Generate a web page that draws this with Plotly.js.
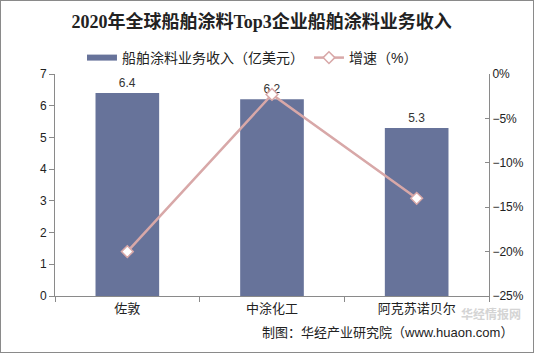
<!DOCTYPE html>
<html><head><meta charset="utf-8">
<script src="https://cdn.plot.ly/plotly-3.0.1.min.js"></script>
<style>
html,body{margin:0;padding:0;background:#fff;}
#chart{width:534px;height:353px;box-sizing:border-box;border:1px solid #8a8a8a;}
</style></head>
<body><div id="chart"></div>
<script>
const categories = ["佐敦", "中涂化工", "阿克苏诺贝尔"];
const revenue = [6.4, 6.2, 5.3];
const growth = [-20, -2.3, -14];
const revenueName = "船舶涂料业务收入（亿美元）";
const growthName = "增速（%）";

const cjk = "Liberation Sans, Noto Sans CJK SC, sans-serif";
const barColor = "#67739a";
const lineColor = "#d8a8a8";

const traces = [
  {
    type: "bar", x: categories, y: revenue, name: revenueName, showlegend: false,
    marker: {color: barColor}, width: 0.44,
    text: revenue.map(v => v.toFixed(1)), textposition: "outside",
    textfont: {family: cjk, size: 12, color: "#333"}, cliponaxis: false
  },
  {
    // legend swatch for the bars (wide rectangle like the reference)
    type: "scatter", mode: "lines", x: [categories[0]], y: [null], name: revenueName,
    line: {color: barColor, width: 6}
  },
  {
    type: "scatter", mode: "lines+markers", x: categories, y: growth, yaxis: "y2",
    name: growthName,
    line: {color: lineColor, width: 2.5},
    marker: {symbol: "diamond", size: 9, color: "#ffffff", line: {color: lineColor, width: 1.5}}
  }
];

const layout = {
  width: 532, height: 351,
  margin: {l: 54, r: 44, t: 70, b: 56},
  paper_bgcolor: "#fff", plot_bgcolor: "#fff",
  font: {family: cjk, size: 12, color: "#222"},
  showlegend: true,
  title: {
    text: "<b>2020年全球船舶涂料Top3企业船舶涂料业务收入</b>",
    font: {family: "Liberation Serif, Noto Sans CJK SC, serif", size: 18, color: "#222"},
    x: 0.49, xref: "container", xanchor: "center",
    y: 1 - 21/351, yref: "container", yanchor: "middle"
  },
  legend: {
    orientation: "h", x: 0.455, xanchor: "center", xref: "paper",
    y: 1 - 57/351, yref: "container", yanchor: "middle",
    font: {family: cjk, size: 14, color: "#222"}, traceorder: "normal",
    itemwidth: 30
  },
  xaxis: {
    type: "category", showline: true, linecolor: "#8a8a8a", linewidth: 1,
    ticks: "outside", tickson: "boundaries", ticklen: 5, tickcolor: "#8a8a8a",
    tickfont: {family: cjk, size: 13, color: "#222"}, showgrid: false, zeroline: false
  },
  yaxis: {
    range: [0, 7], dtick: 1, showline: true, linecolor: "#8a8a8a", linewidth: 1,
    ticks: "outside", ticklen: 5, tickcolor: "#8a8a8a", showgrid: false, zeroline: false,
    tickfont: {family: "Liberation Sans, Arial, sans-serif", size: 12, color: "#222"}
  },
  yaxis2: {
    overlaying: "y", side: "right", range: [-25, 0], dtick: 5, ticksuffix: "%",
    showline: true, linecolor: "#8a8a8a", linewidth: 1,
    ticks: "inside", ticklen: 4, tickcolor: "#8a8a8a", showgrid: false, zeroline: false,
    tickfont: {family: "Liberation Sans, Arial, sans-serif", size: 12, color: "#222"}
  },
  annotations: [
    {text: "<b>华经情报网</b>", xref: "paper", yref: "paper", x: 0.93, y: -0.085, xanchor: "left", yanchor: "middle",
     showarrow: false, font: {family: cjk, size: 12, color: "#d4d4d4"}},
    {text: "制图：华经产业研究院（www.huaon.com）", xref: "paper", yref: "paper",
     x: 1.06, y: -0.165, xanchor: "right", yanchor: "middle", showarrow: false,
     font: {family: cjk, size: 13, color: "#222"}}
  ]
};

Plotly.newPlot("chart", traces, layout, {displayModeBar: false, staticPlot: true});
</script></body></html>
